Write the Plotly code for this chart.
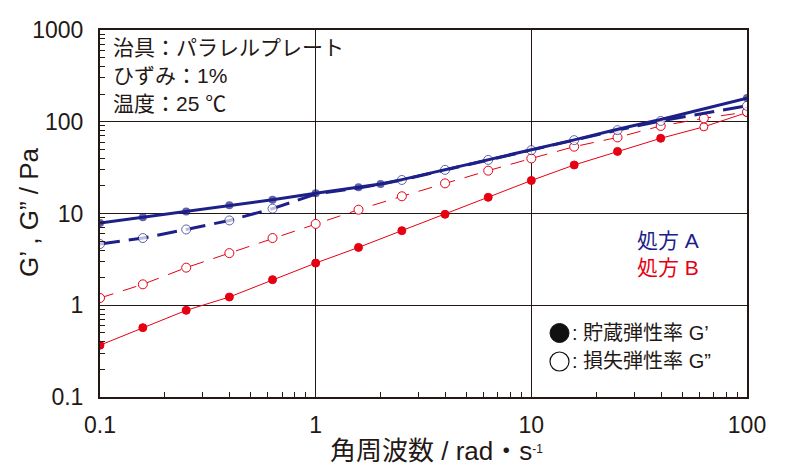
import plotly.graph_objects as go

# ---- data ----
freq_A_Gp = [0.1, 0.158, 0.251, 0.398, 0.631, 1, 1.58, 2.0, 2.51, 3.98, 6.31, 10, 15.8, 25.1, 39.8, 100]
A_Gp = [7.9, 9.1, 10.5, 12.3, 14.1, 16.6, 19.3, 21.0, 23.4, 30.2, 38.8, 49.5, 63.5, 83, 106, 181]
A_Gp_marker_visible = [1, 1, 1, 1, 1, 1, 1, 1, 0, 0, 0, 0, 0, 0, 0, 1]

freq_A_Gpp = [0.1, 0.158, 0.251, 0.398, 0.631, 1, 1.58, 2.0, 2.51, 3.98, 6.31, 10, 15.8, 25.1, 39.8, 100]
A_Gpp = [4.65, 5.4, 6.7, 8.4, 11.3, 16.3, 19.0, 20.8, 23.2, 29.9, 38.4, 49, 63, 81, 102, 149]
A_Gpp_marker_visible = [1, 1, 1, 1, 1, 0, 0, 0, 1, 1, 1, 1, 1, 1, 1, 1]

freq_B = [0.1, 0.158, 0.251, 0.398, 0.631, 1, 1.58, 2.51, 3.98, 6.31, 10, 15.8, 25.1, 39.8, 63.1, 100]
B_Gp = [0.367, 0.57, 0.88, 1.23, 1.9, 2.88, 4.27, 6.5, 9.8, 15.0, 22.9, 33.8, 47.5, 66, 88, 126]
B_Gp_open = [0, 0, 0, 0, 0, 0, 0, 0, 0, 0, 0, 0, 0, 0, 1, 0]
B_Gpp = [1.2, 1.69, 2.57, 3.7, 5.4, 7.7, 11.0, 15.4, 21.3, 29.3, 39.8, 53.5, 67.5, 90, 109, 128]

NAVY = "#1d2088"
RED = "#e60012"
DARK = "#231815"
FONT = "Liberation Sans, Noto Sans CJK JP, sans-serif"

W, H = 786, 474
ML, MR, MT, MB = 100, 39, 30, 77

fig = go.Figure()

# B G'
fig.add_trace(go.Scatter(
    x=freq_B, y=B_Gp, mode="lines+markers",
    line=dict(color=RED, width=1),
    marker=dict(size=8, color=["white" if o else RED for o in B_Gp_open],
                line=dict(color=RED, width=1)),
    showlegend=False))
# B G''
fig.add_trace(go.Scatter(
    x=freq_B, y=B_Gpp, mode="lines+markers",
    line=dict(color=RED, width=1, dash="14px,10px"),
    marker=dict(size=9, color="white", line=dict(color=RED, width=1)),
    showlegend=False))
# A G''
fig.add_trace(go.Scatter(
    x=freq_A_Gpp, y=A_Gpp, mode="lines+markers",
    line=dict(color=NAVY, width=3, dash="20px,9px"),
    marker=dict(size=[9 if v else 0 for v in A_Gpp_marker_visible], color="white",
                line=dict(color=NAVY, width=1)),
    showlegend=False))
# A G'
fig.add_trace(go.Scatter(
    x=freq_A_Gp, y=A_Gp, mode="lines+markers",
    line=dict(color=NAVY, width=3),
    marker=dict(size=[8 if v else 0 for v in A_Gp_marker_visible], color=NAVY,
                line=dict(width=0)),
    showlegend=False))

axis_common = dict(
    type="log", showline=True, linecolor=DARK, linewidth=2, mirror=True,
    showgrid=True, gridcolor=DARK, gridwidth=1, zeroline=False,
    dtick=1, exponentformat="none", ticks="",
    tickfont=dict(family=FONT, size=23, color=DARK),
    minor=dict(ticks="inside", ticklen=5, tickcolor=DARK, tickwidth=1, showgrid=False),
)

fig.update_xaxes(range=[-1, 2], ticklabelstandoff=6, **axis_common)
fig.update_yaxes(range=[-1, 3], ticklabelstandoff=10, **axis_common)

pw = W - ML - MR
ph = H - MT - MB

def px(xp):
    return (xp - ML) / pw

def py(yp):
    return (H - MB - yp) / ph

ann = []
# condition text
for i, t in enumerate(["治具：パラレルプレート", "ひずみ：1%", "温度：25 ℃"]):
    ann.append(dict(x=px(111), y=py(47 + 28 * i), text=t, xanchor="left", yanchor="middle",
                    font=dict(family=FONT, size=21, color=DARK)))
# formulation labels
ann.append(dict(x=px(635), y=py(240), text="処方 A", xanchor="left", yanchor="middle",
                font=dict(family=FONT, size=21, color=NAVY)))
ann.append(dict(x=px(635), y=py(267), text="処方 B", xanchor="left", yanchor="middle",
                font=dict(family=FONT, size=21, color=RED)))
# symbol legend text
ann.append(dict(x=px(570), y=py(333), text=": 貯蔵弾性率 G’", xanchor="left", yanchor="middle",
                font=dict(family=FONT, size=20, color=DARK)))
ann.append(dict(x=px(570), y=py(361), text=": 損失弾性率 G”", xanchor="left", yanchor="middle",
                font=dict(family=FONT, size=20, color=DARK)))
# axis titles
ann.append(dict(x=px(29), y=py(212), text="G’ , G” / Pa", textangle=-90,
                xanchor="center", yanchor="middle",
                font=dict(family=FONT, size=26, color=DARK)))
ann.append(dict(x=px(436), y=py(451),
                text="角周波数 / rad・s<span style=\"font-size:17px\"><sup>-1</sup></span>",
                xanchor="center", yanchor="middle",
                font=dict(family=FONT, size=26, color=DARK)))

for a in ann:
    a.update(xref="paper", yref="paper", showarrow=False)

# symbol legend circles
shapes = [
    dict(type="circle", xref="paper", yref="paper",
         x0=px(550), x1=px(569), y0=py(342.5), y1=py(323.5),
         fillcolor="#111111", line=dict(color="#111111", width=1)),
    dict(type="circle", xref="paper", yref="paper",
         x0=px(550), x1=px(569), y0=py(371), y1=py(352),
         fillcolor="white", line=dict(color="#111111", width=1.2)),
]

fig.update_layout(
    width=W, height=H,
    margin=dict(l=ML, r=MR, t=MT, b=MB),
    paper_bgcolor="white", plot_bgcolor="white",
    annotations=ann, shapes=shapes,
    showlegend=False,
)

fig.write_html("out.html")
